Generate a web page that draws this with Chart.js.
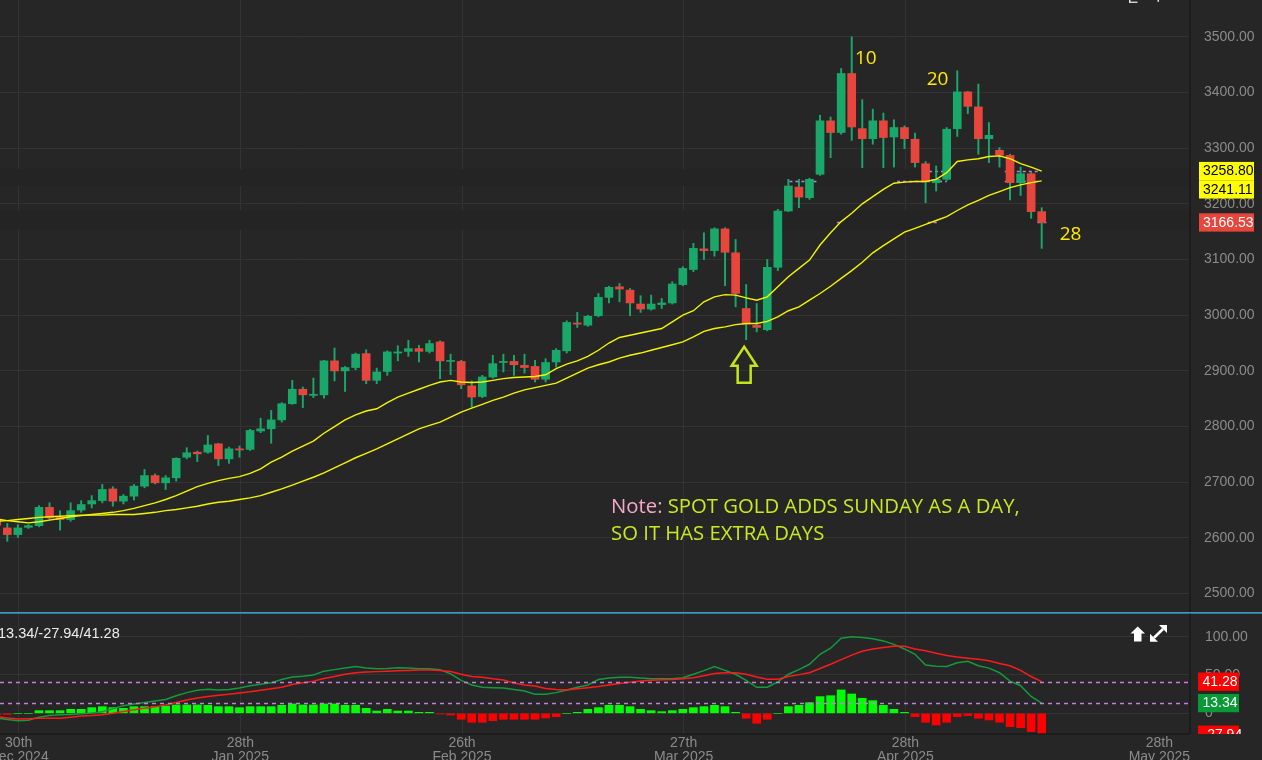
<!DOCTYPE html>
<html>
<head>
<meta charset="utf-8">
<title>Spot Gold daily</title>
<script src="https://cdn.jsdelivr.net/npm/chart.js@4.4.1/dist/chart.umd.min.js"></script>
<style>
  html, body { margin:0; padding:0; background:#262626; overflow:hidden; }
  #wrap { position:relative; width:1262px; height:760px; background:#262626; }
  canvas { position:absolute; left:0; display:block; }
  #c1 { top:0; }
  #c2 { top:612px; }
</style>
</head>
<body>
<div id="wrap">
  <canvas id="c1" width="1262" height="612"></canvas>
  <canvas id="c2" width="1262" height="148"></canvas>
</div>
<script>
// ---------------- DATA (bar index -1 .. 98) ----------------
const firstIndex = -1;

const opens = [
  2633, 2618, 2606, 2619, 2622, 2655, 2637, 2633, 2650, 2661,
  2667, 2688, 2666, 2675, 2693, 2712, 2699, 2708, 2745, 2754,
  2754, 2769, 2742, 2760, 2759, 2792, 2796, 2812, 2841, 2867,
  2856, 2857, 2918, 2900, 2906, 2931, 2883, 2899, 2932, 2935,
  2940, 2935, 2952, 2917, 2917, 2873, 2854, 2889, 2915, 2917,
  2910, 2908, 2885, 2916, 2936, 2986, 2982, 2999, 3032, 3051,
  3045, 3020, 3011, 3019, 3022, 3055, 3082, 3119, 3116, 3155,
  3112, 3012, 2982, 2974, 3086, 3187, 3230, 3211, 3253, 3349,
  3328, 3434, 3335, 3317, 3349, 3320, 3337, 3316, 3272, 3238,
  3244, 3335, 3401, 3374, 3317, 3296, 3287, 3238, 3254, 3186
];
const highs = [
  2640, 2626, 2624, 2624, 2658, 2663, 2649, 2663, 2667, 2676,
  2696, 2692, 2678, 2696, 2723, 2715, 2712, 2744, 2762, 2756,
  2784, 2770, 2763, 2765, 2795, 2815, 2829, 2843, 2883, 2871,
  2887, 2919, 2941, 2908, 2932, 2938, 2905, 2936, 2945, 2955,
  2946, 2955, 2954, 2930, 2919, 2882, 2892, 2928, 2930, 2928,
  2930, 2919, 2922, 2940, 2990, 3005, 3000, 3039, 3052, 3057,
  3048, 3035, 3036, 3030, 3060, 3087, 3129, 3148, 3157, 3157,
  3136, 3055, 3021, 3100, 3190, 3244, 3244, 3246, 3359, 3356,
  3443, 3500, 3387, 3370, 3363, 3351, 3340, 3327, 3276, 3268,
  3337, 3439, 3402, 3415, 3346, 3301, 3289, 3266, 3256, 3193
];
const lows = [
  2620, 2594, 2601, 2617, 2620, 2633, 2614, 2630, 2646, 2654,
  2663, 2657, 2661, 2668, 2690, 2697, 2687, 2702, 2742, 2737,
  2752, 2730, 2734, 2745, 2757, 2789, 2770, 2808, 2840, 2834,
  2852, 2851, 2882, 2863, 2902, 2877, 2877, 2892, 2918, 2926,
  2916, 2932, 2886, 2893, 2868, 2835, 2852, 2887, 2898, 2892,
  2896, 2880, 2880, 2907, 2932, 2978, 2980, 2997, 3022, 3024,
  2999, 3005, 3009, 3012, 3020, 3053, 3078, 3100, 3106, 3053,
  3015, 2956, 2970, 2972, 3080, 3186, 3193, 3208, 3251, 3283,
  3325, 3314, 3265, 3307, 3265, 3266, 3299, 3266, 3202, 3223,
  3242, 3321, 3362, 3289, 3274, 3266, 3207, 3215, 3174, 3120
];
const closes = [
  2623, 2606, 2618, 2622, 2655, 2636, 2633, 2649, 2660, 2667,
  2687, 2666, 2675, 2693, 2712, 2699, 2708, 2743, 2753, 2751,
  2767, 2742, 2760, 2758, 2793, 2796, 2812, 2841, 2867, 2857,
  2858, 2918, 2900, 2906, 2930, 2883, 2898, 2934, 2934, 2940,
  2935, 2949, 2918, 2918, 2875, 2853, 2889, 2913, 2917, 2911,
  2906, 2885, 2915, 2937, 2987, 2984, 2998, 3032, 3050, 3047,
  3022, 3011, 3020, 3022, 3056, 3084, 3120, 3116, 3155, 3113,
  3039, 2984, 2978, 3086, 3187, 3232, 3212, 3244, 3349, 3328,
  3434, 3338, 3317, 3349, 3319, 3337, 3317, 3274, 3240, 3244,
  3334, 3401, 3375, 3317, 3323, 3287, 3238, 3254, 3186, 3166.53
];
// fast and slow moving averages
const maFast = [
  2634, 2631, 2629, 2627, 2629, 2632, 2635, 2638, 2640, 2642,
  2644, 2646, 2649, 2653, 2658, 2663, 2669, 2676, 2684, 2692,
  2698, 2703, 2707, 2710, 2716, 2724, 2736, 2745, 2756, 2765,
  2774, 2788, 2800, 2812, 2821, 2828, 2832, 2843, 2853, 2860,
  2867, 2874, 2880, 2883, 2880, 2879, 2880, 2883, 2886, 2888,
  2889, 2890, 2893, 2904, 2912, 2918, 2926, 2937, 2950, 2960,
  2964, 2968, 2972, 2976, 2988, 3000, 3008, 3024, 3033, 3037,
  3036, 3031, 3027, 3033, 3051, 3069, 3084, 3099, 3126, 3148,
  3168, 3183, 3200, 3213, 3226, 3237, 3239, 3240, 3240, 3244,
  3256, 3276, 3279, 3281, 3285, 3286, 3281, 3272, 3266, 3258.80
];
const maSlow = [
  2630, 2631, 2633, 2635, 2637, 2638, 2639, 2640, 2641, 2641,
  2641, 2642, 2642, 2642, 2644, 2646, 2649, 2651, 2654, 2657,
  2661, 2664, 2666, 2669, 2672, 2676, 2682, 2688, 2695, 2702,
  2709, 2717, 2726, 2735, 2744, 2752, 2760, 2769, 2778, 2787,
  2796, 2802, 2808, 2817, 2826, 2833, 2840, 2847, 2853, 2860,
  2866, 2870, 2874, 2878, 2887, 2896, 2905, 2911, 2916, 2923,
  2928, 2932, 2937, 2942, 2947, 2952, 2961, 2971, 2976, 2979,
  2983, 2985, 2985, 2989, 2997, 3008, 3015, 3027, 3039, 3052,
  3066, 3080, 3095, 3112, 3125, 3137, 3149, 3156, 3163, 3170,
  3177, 3188, 3198, 3206, 3215, 3222, 3229, 3234, 3238, 3241.11
];
// oscillator panel: green line, red line, histogram
const oscGreen = [
  -6, -8, -9.6, -9, -5, -3, -2, -1.5, -0.5, 0.5,
  2, 6, 10, 12, 14, 16, 18, 23, 27, 30,
  31.5, 30.5, 31, 33, 36, 38, 40, 44, 47.5, 48.5,
  50, 55, 57, 59, 61, 59, 58, 58.5, 59.6, 59,
  58, 58.3, 57, 51.5, 43, 37, 34, 33.5, 33, 31,
  29, 25, 24.8, 27, 30.5, 34, 37, 44, 46, 47,
  47, 46, 45.2, 45, 45.2, 46.5, 51, 55.7, 61, 56,
  51, 43, 34, 34, 41, 51, 57, 64, 77, 85,
  97.9, 100, 99, 97.4, 94.5, 90, 84, 77, 63, 61.5,
  61, 66, 68, 62, 59, 53, 42, 36, 22, 13.34
];
const oscRed = [
  -4.5, -6, -7.4, -7, -6.5, -6.5, -6.5, -5, -3.5, -3,
  -2, 0, 2.5, 4.5, 6.5, 8.5, 11, 14, 17.4, 20,
  22, 23.5, 25, 26.5, 28, 30, 32, 34, 37.5, 40,
  42, 45.5, 48, 51, 53, 53.8, 54.4, 55, 55.7, 56,
  56.6, 56.6, 56, 54.5, 51, 48, 47, 45, 43.5, 39.5,
  37, 35.5, 32.5, 31, 30.5, 32, 33.5, 35, 37, 39,
  40.5, 42.2, 43, 43.8, 44.2, 45, 46.5, 49, 52, 52.8,
  53, 51, 47.5, 44.4, 44.4, 48, 50.5, 53, 58.5, 64,
  70, 76, 81, 84, 86, 87.5, 87.5, 84, 81.5, 78.5,
  75.5, 73.5, 72, 70.5, 68.5, 65, 62, 56, 48, 41.28
];
const oscHist = [
  -1.5, -1.5, 0, 0, 3.5, 3.5, 3.5, 5.2, 5.2, 7.4,
  8.7, 7.4, 6.5, 8.7, 8.7, 8.7, 9.6, 10.9, 10.9, 10.9,
  10.4, 8.7, 8.7, 7.4, 8.7, 8.7, 8.7, 10.4, 12.2, 10.9,
  10.9, 12.2, 12.2, 10.4, 10.4, 6.5, 3, 5.2, 3, 3,
  1.3, 1.3, -0.9, -2.2, -7.8, -11.7, -11.7, -9.6, -7.8, -7.8,
  -7.8, -7.8, -6.1, -4.4, 0, 1.3, 5.2, 7.4, 10.4, 10.4,
  8.7, 5.2, 3.5, 2.2, 3.5, 5.2, 7.4, 8.7, 10.4, 8.7,
  1.3, -6.5, -13, -7.8, 0, 8.7, 10.4, 13.9, 21.8, 23,
  30.5, 25.2, 19.6, 16.5, 10.4, 5.2, 1.3, -4.4, -11.7, -15.2,
  -11.7, -4.4, -3, -6.5, -8.7, -11.7, -17.4, -18.7, -23.9, -27.94
];

// axis ticks
const xTickIdx = [1.08, 22.08, 43.08, 64.08, 85.08, 109.15];
const xTickLabels = [
  ['30th', 'Dec 2024'], ['28th', 'Jan 2025'], ['26th', 'Feb 2025'],
  ['27th', 'Mar 2025'], ['28th', 'Apr 2025'], ['28th', 'May 2025']
];
const priceTicks = [2500, 2600, 2700, 2800, 2900, 3000, 3100, 3200, 3300, 3400, 3500];
const oscTicks = [0, 50, 100];

// annotations (data coordinates: bar index, price)
const annotTexts = ['10', '20', '28'];
const annotIdx = [80.3, 87.1, 99.7];
const annotPrice = [3451, 3413, 3135];
const arrowIdx = 70;
const noteParts = [['Note:', ' SPOT GOLD ADDS SUNDAY AS A DAY,'], ['', 'SO IT HAS EXTRA DAYS']];
const noteIdx = 57.2;
const notePrice = [2644, 2595.5];
// visible fragments of the dashed price lines (bar-index spans) for: fast MA, slow MA, last close
const dashSpansFast = [[76.6, 77.3], [86.75, 89.5], [94.5, 97.8]];
const dashSpansSlow = [[74.1, 76.7], [84.3, 89.0], [94.5, 97.8]];
const dashSpansClose = [[72.7, 73.1], [78.6, 79.0], [87.2, 88.1], [97.6, 98.5]];

// ---------------- STYLE ----------------
Chart.defaults.font.family = '"Liberation Sans", Arial, sans-serif';
Chart.defaults.font.size = 14;
const UP = '#19a869', DOWN = '#e8463c', MA_COL = '#f5f500';
const GRID = '#333333', AXIS_TXT = '#8b8b8b';
const X_MIN = -0.6916, X_MAX = 112.05;
const xs = opens.map((_, k) => k + firstIndex);
const last = closes.length - 1;

function zeroPad(s) { s.paddingLeft = 0; s.paddingRight = 0; s.paddingTop = 0; s.paddingBottom = 0; }
const xGridColor = c => (c.index === xTickIdx.length - 1 ? 'rgba(0,0,0,0)' : GRID);

// ---------------- MAIN PRICE PANEL ----------------
const mainDecor = {
  id: 'mainDecor',
  beforeDatasetsDraw(chart) {
    const { ctx, chartArea: a, scales: { x, y } } = chart;
    ctx.save();
    ctx.fillStyle = '#242424';
    const yMid = (y.getPixelForValue(maFast[last]) + y.getPixelForValue(maSlow[last])) / 2;
    ctx.fillRect(a.left, yMid - 7, a.right - a.left, 17);
    const yc = y.getPixelForValue(closes[last]);
    ctx.fillRect(a.left, yc - 12, a.right - a.left, 19);
    // dashed price-line fragments
    ctx.setLineDash([3, 3]);
    ctx.lineWidth = 1.5;
    ctx.strokeStyle = '#c47fdc';
    [[maFast[last], dashSpansFast], [maSlow[last], dashSpansSlow], [closes[last], dashSpansClose]].forEach(([v, spans]) => {
      const py = Math.round(y.getPixelForValue(v)) + 0.5;
      spans.forEach(([s, e]) => {
        ctx.beginPath();
        ctx.moveTo(x.getPixelForValue(s), py);
        ctx.lineTo(x.getPixelForValue(e), py);
        ctx.stroke();
      });
    });
    ctx.restore();
  },
  afterDatasetsDraw(chart) {
    const { ctx, scales: { x, y } } = chart;
    ctx.save();
    // counting labels
    ctx.font = '19px "Open Sans", "Noto Sans", sans-serif';
    ctx.fillStyle = '#ffea00';
    ctx.textAlign = 'left';
    ctx.textBaseline = 'alphabetic';
    annotTexts.forEach((t, i) => ctx.fillText(t, x.getPixelForValue(annotIdx[i]), y.getPixelForValue(annotPrice[i])));
    // hollow up arrow under the swing low
    const ax = x.getPixelForValue(arrowIdx) - 2;
    const ay = y.getPixelForValue(lows[arrowIdx - firstIndex]) + 7;
    ctx.beginPath();
    ctx.moveTo(ax, ay);
    ctx.lineTo(ax + 12.5, ay + 19);
    ctx.lineTo(ax + 6.5, ay + 19);
    ctx.lineTo(ax + 6.5, ay + 36);
    ctx.lineTo(ax - 6.5, ay + 36);
    ctx.lineTo(ax - 6.5, ay + 19);
    ctx.lineTo(ax - 12.5, ay + 19);
    ctx.closePath();
    ctx.lineWidth = 2.5;
    ctx.lineJoin = 'miter';
    ctx.strokeStyle = '#c3e619';
    ctx.stroke();
    // note text, fitted to its width
    let size = 20;
    ctx.font = size + 'px "Open Sans", "Noto Sans", sans-serif';
    const w = ctx.measureText(noteParts[0].join('')).width;
    size = size * 409 / w;
    ctx.font = size.toFixed(2) + 'px "Open Sans", "Noto Sans", sans-serif';
    const nx = x.getPixelForValue(noteIdx);
    noteParts.forEach((parts, i) => {
      const ny = y.getPixelForValue(notePrice[i]);
      ctx.fillStyle = '#f6a8c9';
      ctx.fillText(parts[0], nx, ny);
      const off = parts[0] ? ctx.measureText(parts[0]).width : 0;
      ctx.fillStyle = '#c6ea1e';
      ctx.fillText(parts[1], nx + off, ny);
    });
    ctx.restore();
  },
  afterDraw(chart) {
    const { ctx, chartArea: a, scales: { y } } = chart;
    ctx.save();
    ctx.fillStyle = '#1c1c1c';
    ctx.fillRect(a.right - 1, 0, 2, chart.height);
    // small toolbar fragments at the very top
    ctx.fillStyle = '#e6e6e6';
    ctx.fillRect(1129, 0, 1.5, 2.8);
    ctx.fillRect(1129, 1.6, 8.5, 1.3);
    ctx.fillRect(1157.5, 0, 1.5, 1.8);
    const boxes = [
      { v: maFast[last], bg: '#ffff00', fg: '#000000' },
      { v: maSlow[last], bg: '#ffff00', fg: '#000000' },
      { v: closes[last], bg: closes[last] >= opens[last] ? UP : DOWN, fg: '#ffffff' }
    ];
    const H = 18.3;
    let prevBottom = -Infinity;
    ctx.font = '14px "Liberation Sans", Arial, sans-serif';
    ctx.textBaseline = 'middle';
    ctx.textAlign = 'left';
    boxes.forEach(b => {
      let top = y.getPixelForValue(b.v) - H / 2;
      if (top < prevBottom) top = prevBottom;
      ctx.fillStyle = b.bg;
      ctx.fillRect(a.right + 9, top, 55, H);
      ctx.fillStyle = b.fg;
      ctx.fillText(b.v.toFixed(2), a.right + 13, top + H / 2 + 0.5);
      prevBottom = top + H;
    });
    ctx.restore();
  }
};

new Chart(document.getElementById('c1'), {
  type: 'bar',
  data: {
    datasets: [
      { type: 'line', label: 'MA fast', data: xs.map((x, k) => ({ x, y: maFast[k] })), borderColor: MA_COL, borderWidth: 1.4, pointRadius: 0, tension: 0, order: 0 },
      { type: 'line', label: 'MA slow', data: xs.map((x, k) => ({ x, y: maSlow[k] })), borderColor: MA_COL, borderWidth: 1.4, pointRadius: 0, tension: 0, order: 0 },
      { label: 'wick', data: xs.map((x, k) => ({ x, y: [lows[k], highs[k]] })), backgroundColor: UP, barThickness: 1.3, grouped: false, order: 2 },
      { label: 'body', data: xs.map((x, k) => ({ x, y: [opens[k], closes[k]] })), backgroundColor: xs.map((x, k) => (closes[k] >= opens[k] ? UP : DOWN)), barThickness: 8, minBarLength: 1, grouped: false, order: 1 }
    ]
  },
  options: {
    responsive: false,
    animation: false,
    events: [],
    layout: { padding: 0 },
    plugins: { legend: { display: false }, tooltip: { enabled: false } },
    scales: {
      x: {
        type: 'linear', min: X_MIN, max: X_MAX, offset: false,
        afterBuildTicks: s => { s.ticks = xTickIdx.map(v => ({ value: v })); },
        afterFit: s => { s.height = 0; zeroPad(s); },
        ticks: { display: false },
        grid: { color: xGridColor, drawTicks: false, offset: false },
        border: { display: false }
      },
      y: {
        position: 'right', min: 2467, max: 3566, beginAtZero: false,
        afterBuildTicks: s => { s.ticks = priceTicks.map(v => ({ value: v })); },
        afterFit: s => { s.width = 72; zeroPad(s); },
        ticks: { padding: 14, color: AXIS_TXT, font: { size: 14 }, callback: v => Number(v).toFixed(2) },
        grid: { color: GRID, drawTicks: false },
        border: { display: false }
      }
    }
  },
  plugins: [mainDecor]
});

// ---------------- OSCILLATOR PANEL ----------------
const oscDecor = {
  id: 'oscDecor',
  afterDatasetsDraw(chart) {
    const { ctx, chartArea: a, scales: { y } } = chart;
    ctx.save();
    ctx.setLineDash([4, 4]);
    ctx.lineWidth = 1.5;
    ctx.strokeStyle = '#c47fdc';
    [oscRed[last], oscGreen[last]].forEach(v => {
      const py = Math.round(y.getPixelForValue(v)) + 0.5;
      ctx.beginPath();
      ctx.moveTo(a.left, py);
      ctx.lineTo(a.right, py);
      ctx.stroke();
    });
    ctx.restore();
  },
  afterDraw(chart) {
    const { ctx, chartArea: a, scales: { y } } = chart;
    ctx.save();
    // panel separator (blue) and frame lines
    ctx.fillStyle = '#3d9ac2';
    ctx.fillRect(0, 0, chart.width, 1.7);
    ctx.fillStyle = '#1c1c1c';
    ctx.fillRect(a.right - 1, 1.7, 2, a.bottom - 1.7);
    ctx.fillRect(0, a.bottom - 0.7, a.right, 1.6);
    // indicator values text
    ctx.font = '14.5px "Liberation Sans", Arial, sans-serif';
    ctx.fillStyle = '#ececec';
    ctx.textAlign = 'left';
    ctx.textBaseline = 'alphabetic';
    ctx.fillText(oscGreen[last].toFixed(2) + '/' + oscHist[last].toFixed(2) + '/' + oscRed[last].toFixed(2), -2, 26);
    // icons: up arrow and expand
    ctx.fillStyle = '#ffffff';
    ctx.beginPath();
    ctx.moveTo(1137.7, 14.5); ctx.lineTo(1145, 21.5); ctx.lineTo(1141.5, 21.5); ctx.lineTo(1141.5, 29.5);
    ctx.lineTo(1134, 29.5); ctx.lineTo(1134, 21.5); ctx.lineTo(1130.5, 21.5); ctx.closePath(); ctx.fill();
    ctx.beginPath(); ctx.moveTo(1167, 13); ctx.lineTo(1167, 21); ctx.lineTo(1159, 13); ctx.closePath(); ctx.fill();
    ctx.beginPath(); ctx.moveTo(1150, 29.7); ctx.lineTo(1150, 21.7); ctx.lineTo(1158, 29.7); ctx.closePath(); ctx.fill();
    ctx.strokeStyle = '#ffffff'; ctx.lineWidth = 2.6;
    ctx.beginPath(); ctx.moveTo(1154, 25.7); ctx.lineTo(1163, 17); ctx.stroke();
    // right-axis value boxes
    ctx.beginPath();
    ctx.rect(a.right, a.top, chart.width - a.right, a.bottom - a.top);
    ctx.clip();
    const boxes = [
      { v: oscRed[last], bg: '#ff0000' },
      { v: oscGreen[last], bg: '#079a37' },
      { v: oscHist[last], bg: '#ff0000' }
    ];
    ctx.font = '14px "Liberation Sans", Arial, sans-serif';
    ctx.textBaseline = 'middle';
    const H = 18.3;
    boxes.forEach(b => {
      const top = y.getPixelForValue(b.v) - H / 2;
      ctx.fillStyle = b.bg;
      ctx.fillRect(a.right + 8, top, 41, H);
      ctx.fillStyle = '#ffffff';
      ctx.fillText(b.v.toFixed(2), a.right + 12.5, top + H / 2 + 0.5);
    });
    ctx.restore();
  }
};

new Chart(document.getElementById('c2'), {
  type: 'bar',
  data: {
    datasets: [
      { type: 'line', label: 'red', data: xs.map((x, k) => ({ x, y: oscRed[k] })), borderColor: '#ff1a1a', borderWidth: 1.5, pointRadius: 0, tension: 0, order: 0 },
      { type: 'line', label: 'green', data: xs.map((x, k) => ({ x, y: oscGreen[k] })), borderColor: '#139a3d', borderWidth: 1.5, pointRadius: 0, tension: 0, order: 1 },
      { label: 'hist', data: xs.map((x, k) => ({ x, y: oscHist[k] })), backgroundColor: oscHist.map(v => (v >= 0 ? '#00ff00' : '#ff0000')), barThickness: 8, grouped: false, order: 2 }
    ]
  },
  options: {
    responsive: false,
    animation: false,
    events: [],
    layout: { padding: { top: 2, left: 0, right: 0, bottom: 0 } },
    plugins: { legend: { display: false }, tooltip: { enabled: false } },
    scales: {
      x: {
        type: 'linear', min: X_MIN, max: X_MAX, offset: false,
        afterBuildTicks: s => { s.ticks = xTickIdx.map(v => ({ value: v })); },
        afterFit: s => { s.height = 26; zeroPad(s); },
        ticks: { autoSkip: false, maxRotation: 0, minRotation: 0, padding: 2, color: AXIS_TXT, font: { size: 14, lineHeight: 1.02 }, callback: (v, i) => xTickLabels[i] },
        grid: { color: xGridColor, drawTicks: false, offset: false },
        border: { display: false }
      },
      y: {
        position: 'right', min: -27, max: 129.6, beginAtZero: false,
        afterBuildTicks: s => { s.ticks = oscTicks.map(v => ({ value: v })); },
        afterFit: s => { s.width = 72; zeroPad(s); },
        ticks: { padding: 15, color: AXIS_TXT, font: { size: 14 }, callback: v => (v === 0 ? '0' : Number(v).toFixed(2)) },
        grid: { color: GRID, drawTicks: false },
        border: { display: false }
      }
    }
  },
  plugins: [oscDecor]
});
</script>
</body>
</html>
